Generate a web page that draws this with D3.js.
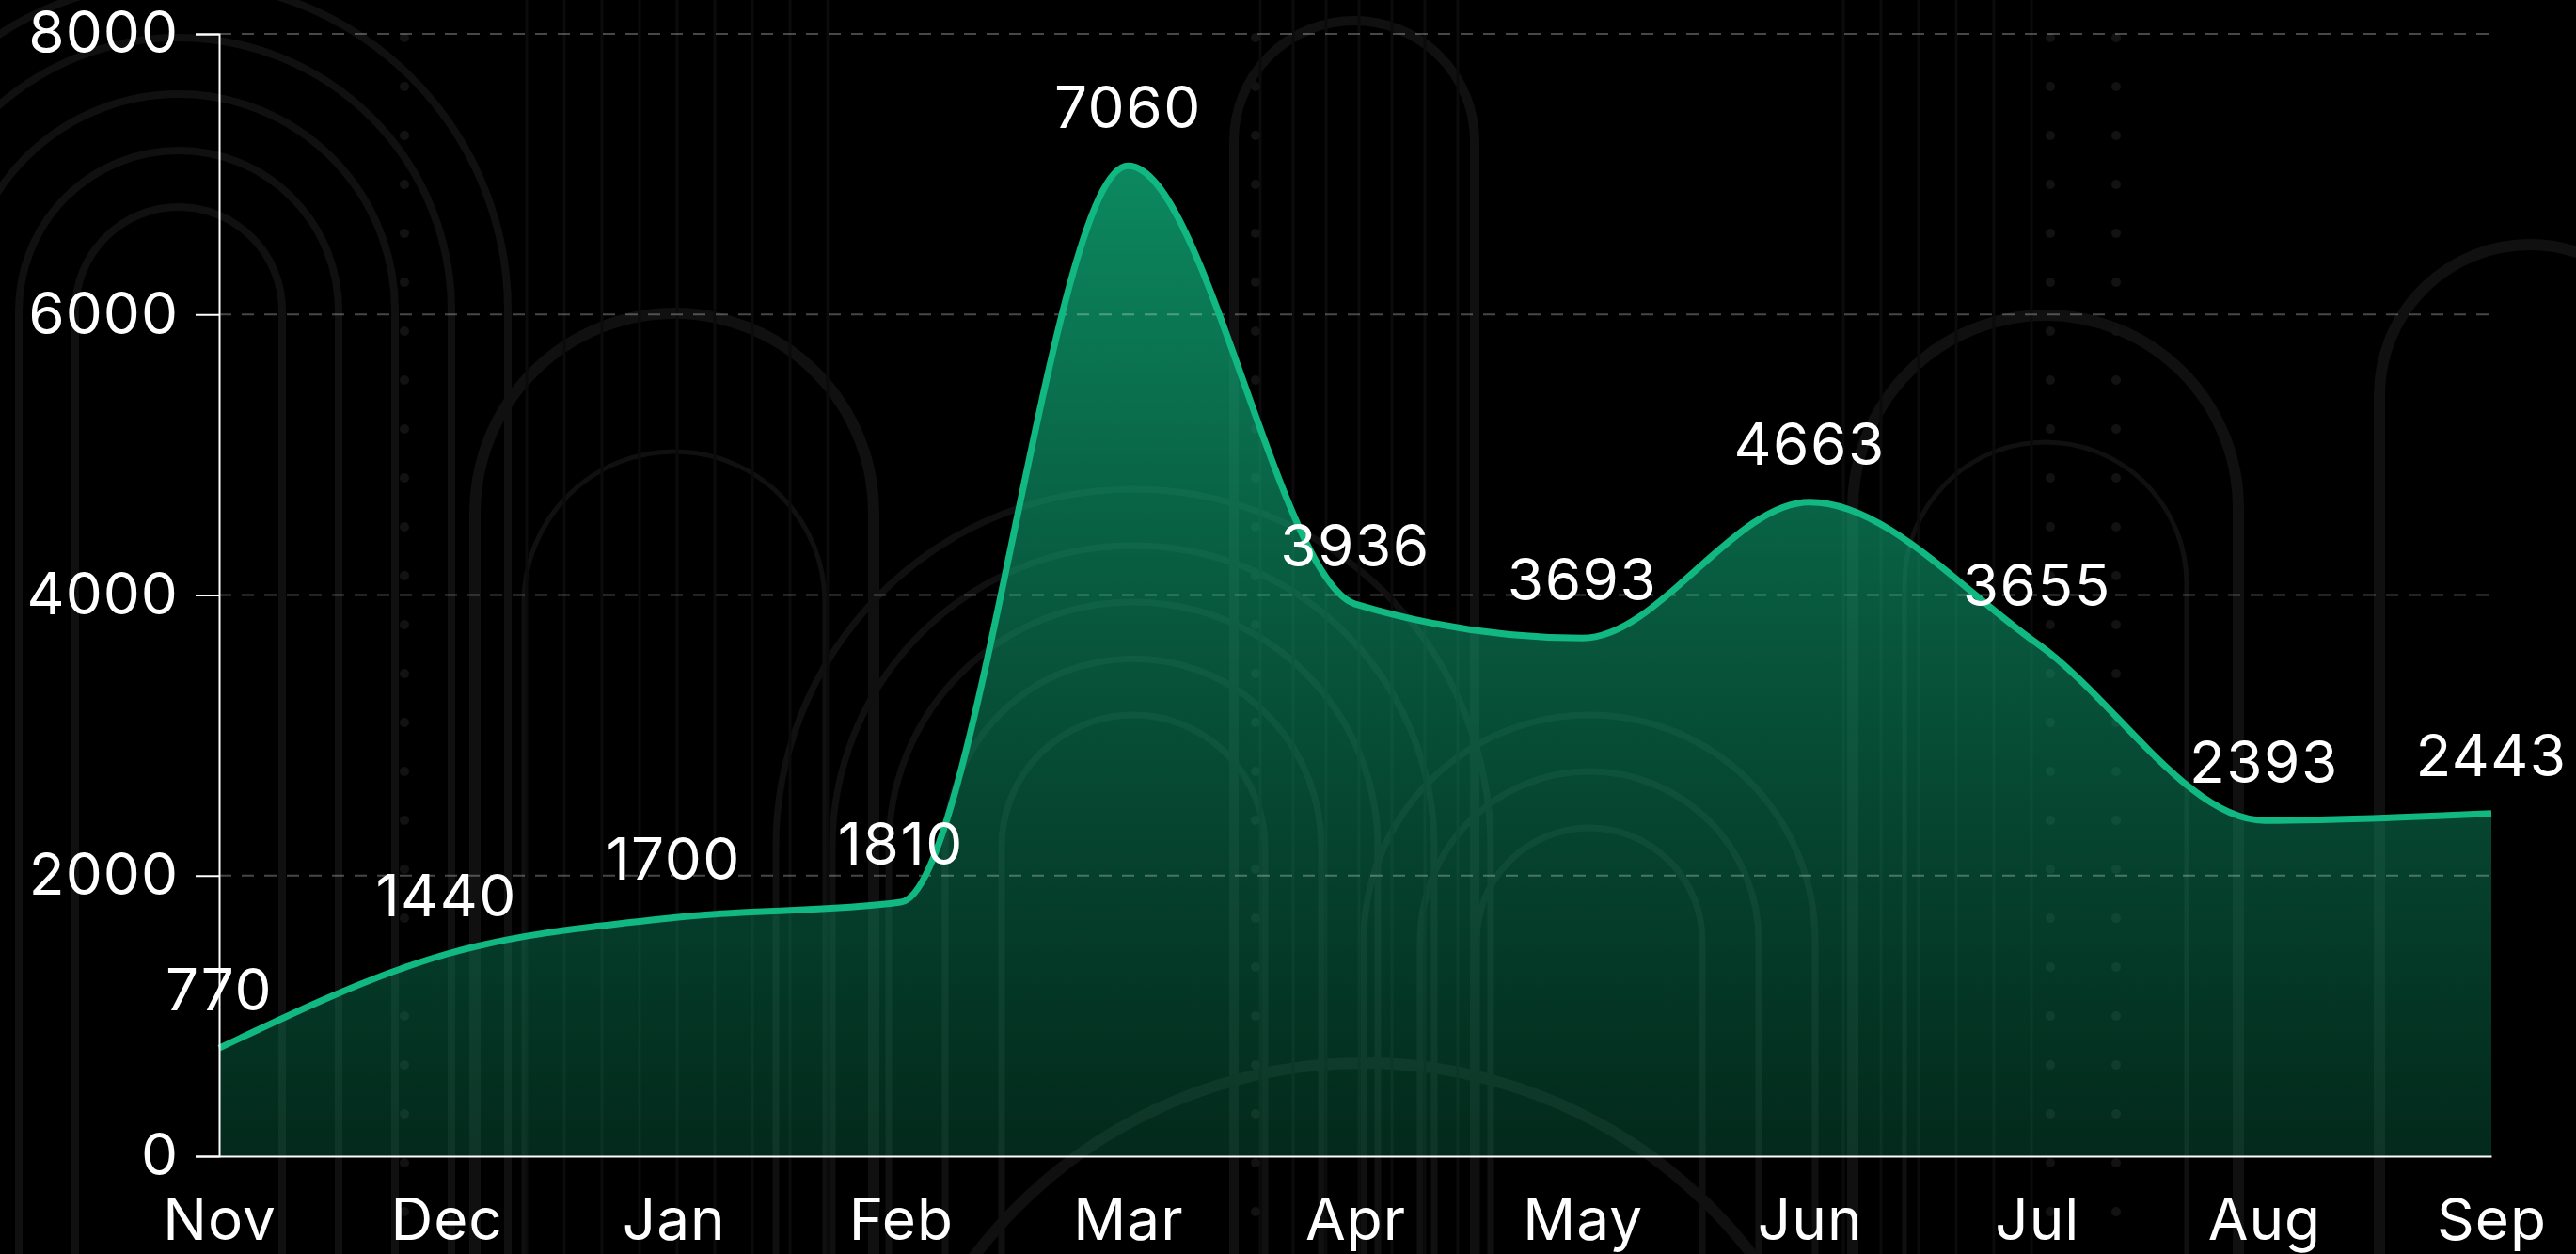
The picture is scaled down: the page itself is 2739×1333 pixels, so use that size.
<!DOCTYPE html>
<html>
<head>
<meta charset="utf-8">
<script src="https://cdn.jsdelivr.net/npm/d3@7"></script>
<style>
  html, body { margin: 0; padding: 0; background: #000; overflow: hidden; }
  svg { display: block; }
</style>
</head>
<body>
<svg id="chart"></svg>
<script>

var months = ["Nov", "Dec", "Jan", "Feb", "Mar", "Apr", "May", "Jun", "Jul", "Aug", "Sep"];
var values = [770, 1440, 1700, 1810, 7060, 3936, 3693, 4663, 3655, 2393, 2443];
var yTicks = [0, 2000, 4000, 6000, 8000];

var width = 2739;
var height = 1333;
var margin = {top: 36, right: 90, bottom: 104, left: 233};
var font = "Inter, sans-serif";

var svg = d3.select("#chart")
            .attr("width", width)
            .attr("height", height);

svg.append("rect")
   .attr("width", width)
   .attr("height", height)
   .attr("fill", "#000");

//************************************** background decoration ******************************************//

var arch = function(cx, cy, r, bottom)
{
  return "M" + (cx - r) + "," + bottom + "L" + (cx - r) + "," + cy +
         "A" + r + "," + r + " 0 0 1 " + (cx + r) + "," + cy +
         "L" + (cx + r) + "," + bottom;
}

var deco = svg.append("g")
              .attr("fill", "none")
              .attr("stroke", "#101010");

// concentric arches top-left
[110, 170, 230, 290, 350].forEach(function(r)
{
  deco.append("path").attr("d", arch(190, 330, r, 1333)).attr("stroke-width", 8);
});
// arch behind Jan
deco.append("path").attr("d", arch(717, 545, 212, 1333)).attr("stroke-width", 12);
deco.append("path").attr("d", arch(717, 640, 160, 1333)).attr("stroke-width", 5);
// tall arch behind Apr
deco.append("path").attr("d", arch(1440, 150, 128, 1333)).attr("stroke-width", 10);
// arches right
deco.append("path").attr("d", arch(2175, 540, 205, 1333)).attr("stroke-width", 12);
deco.append("path").attr("d", arch(2175, 620, 150, 1333)).attr("stroke-width", 5);
deco.append("path").attr("d", arch(2690, 420, 160, 1333)).attr("stroke-width", 12);
// rings around Mar / May
[140, 200, 260, 320, 380].forEach(function(r)
{
  deco.append("path").attr("d", arch(1205, 900, r, 1333)).attr("stroke-width", 7);
});
[120, 180, 240].forEach(function(r)
{
  deco.append("path").attr("d", arch(1690, 1000, r, 1333)).attr("stroke-width", 7);
});
deco.append("circle").attr("cx", 1450).attr("cy", 1650).attr("r", 520).attr("stroke-width", 12);

// thin vertical lines
d3.range(560, 900, 40).concat(d3.range(1340, 1560, 35), d3.range(1960, 2200, 40)).forEach(function(xv)
{
  deco.append("line")
      .attr("x1", xv).attr("x2", xv)
      .attr("y1", 0).attr("y2", 1333)
      .attr("stroke", "#0b0b0b")
      .attr("stroke-width", 3);
});

// dot columns
[430, 1335, 2180, 2250].forEach(function(xv)
{
  d3.range(40, 1333, 52).forEach(function(yv)
  {
    deco.append("circle")
        .attr("cx", xv).attr("cy", yv).attr("r", 5)
        .attr("fill", "#121212").attr("stroke", "none");
  });
});

//************************************** scales ******************************************//

var x = d3.scalePoint()
          .domain(months)
          .range([margin.left, width - margin.right]);

var y = d3.scaleLinear()
          .domain([0, 8000])
          .range([height - margin.bottom, margin.top]);

var data = months.map(function(m, i) { return {month: m, value: values[i]}; });

//************************************** area + line ******************************************//

var defs = svg.append("defs");
var grad = defs.append("linearGradient")
               .attr("id", "areaGrad")
               .attr("gradientUnits", "userSpaceOnUse")
               .attr("x1", 0).attr("x2", 0)
               .attr("y1", y(d3.max(values))).attr("y2", y(0));
grad.append("stop").attr("offset", "0%").attr("stop-color", "#10b981").attr("stop-opacity", 0.74);
grad.append("stop").attr("offset", "55%").attr("stop-color", "#0e9e6e").attr("stop-opacity", 0.5);
grad.append("stop").attr("offset", "100%").attr("stop-color", "#0a8a5c").attr("stop-opacity", 0.3);

var area = d3.area()
             .curve(d3.curveMonotoneX)
             .x(function(d) { return x(d.month); })
             .y0(y(0))
             .y1(function(d) { return y(d.value); });

var line = d3.line()
             .curve(d3.curveMonotoneX)
             .x(function(d) { return x(d.month); })
             .y(function(d) { return y(d.value); });

svg.append("path")
   .datum(data)
   .attr("d", area)
   .attr("fill", "url(#areaGrad)");

//************************************** grid ******************************************//

svg.append("g")
   .selectAll("line")
   .data(yTicks.filter(function(t) { return t > 0; }))
   .enter()
   .append("line")
   .attr("x1", margin.left)
   .attr("x2", width - margin.right)
   .attr("y1", function(d) { return y(d); })
   .attr("y2", function(d) { return y(d); })
   .attr("stroke", "rgba(255,255,255,0.28)")
   .attr("stroke-width", 2)
   .attr("stroke-dasharray", "13,11");

svg.append("path")
   .datum(data)
   .attr("d", line)
   .attr("fill", "none")
   .attr("stroke", "#12b882")
   .attr("stroke-width", 7);

//************************************** axes ******************************************//

var yAxis = svg.append("g")
               .attr("transform", "translate(" + margin.left + ",0)")
               .call(d3.axisLeft(y).tickValues(yTicks).tickFormat(d3.format("d")).tickSize(25).tickPadding(18));

var xAxis = svg.append("g")
               .attr("transform", "translate(0," + y(0) + ")")
               .call(d3.axisBottom(x).tickSize(0).tickPadding(0));

[yAxis, xAxis].forEach(function(g)
{
  g.selectAll(".domain").attr("stroke", "#fff").attr("stroke-width", 2);
  g.selectAll(".tick line").attr("stroke", "#fff").attr("stroke-width", 2);
  g.selectAll("text")
   .attr("fill", "#fff")
   .attr("font-family", font)
   .attr("font-size", "62px")
   .attr("letter-spacing", "1px");
});

xAxis.selectAll("text")
     .attr("y", 89)
     .attr("dy", 0);

//************************************** value labels ******************************************//

svg.selectAll("text.val")
   .data(data)
   .enter()
   .append("text")
   .attr("class", "val")
   .text(function(d) { return d.value; })
   .attr("x", function(d) { return x(d.month); })
   .attr("y", function(d) { return y(d.value) - 40; })
   .attr("text-anchor", "middle")
   .attr("fill", "#fff")
   .attr("font-family", font)
   .attr("font-size", "62px")
   .attr("letter-spacing", "1.5px");

</script>
</body>
</html>
